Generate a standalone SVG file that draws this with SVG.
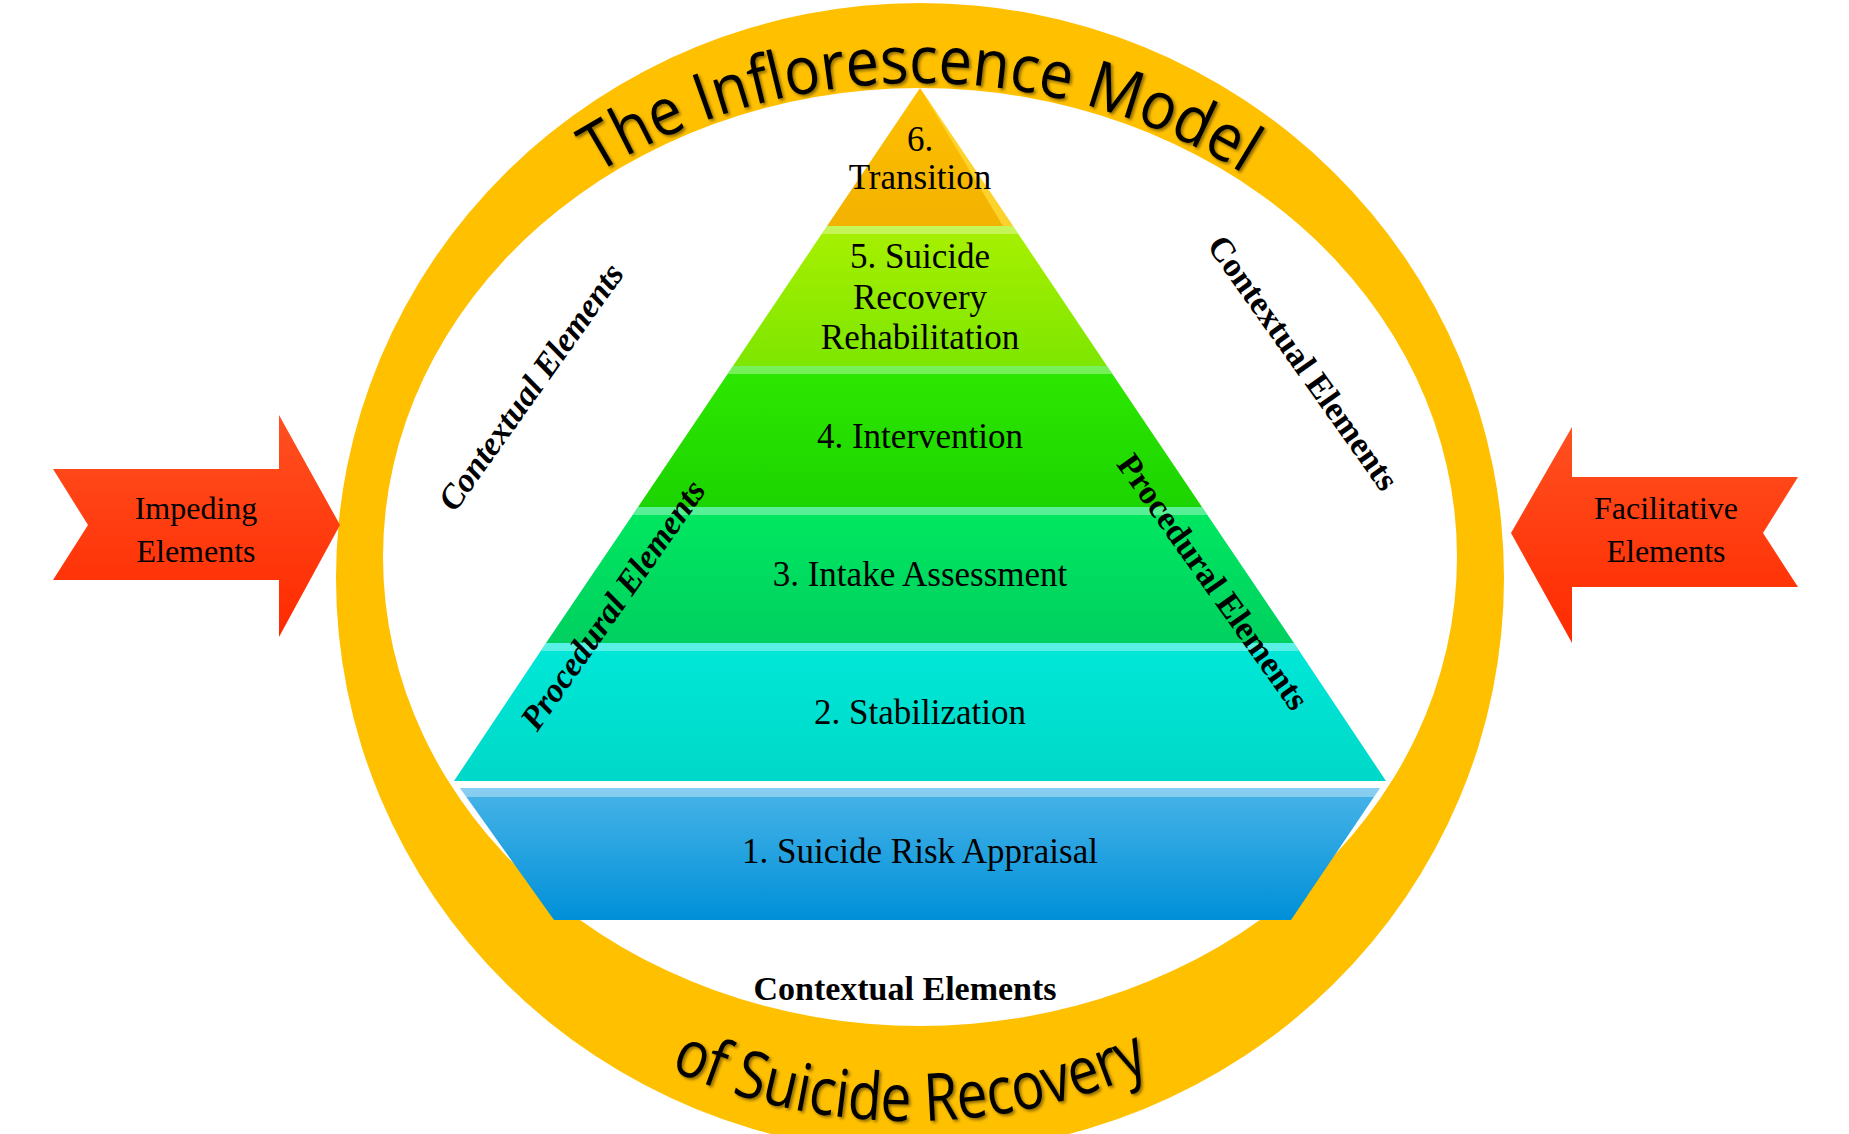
<svg xmlns="http://www.w3.org/2000/svg" width="1849" height="1134" viewBox="0 0 1849 1134">
<defs>
<style>
.lbl{font-family:"Liberation Serif","Times New Roman",serif;font-size:35px;fill:#000;text-anchor:middle}
.side{font-family:"Liberation Serif","Times New Roman",serif;font-size:34px;font-weight:bold;fill:#000;text-anchor:middle}
.arc{font-family:"Open Sans","Liberation Sans",sans-serif;font-size:66px;fill:#000}
.hl{fill:#fff;opacity:0.35}
</style>
<linearGradient id="g6" x1="0" y1="0" x2="0" y2="1"><stop offset="0" stop-color="#FFC000"/><stop offset="1" stop-color="#F2B200"/></linearGradient>
<linearGradient id="g5" x1="0" y1="0" x2="0" y2="1"><stop offset="0" stop-color="#A8F000"/><stop offset="1" stop-color="#7EE600"/></linearGradient>
<linearGradient id="g4" x1="0" y1="0" x2="0" y2="1"><stop offset="0" stop-color="#2EE800"/><stop offset="1" stop-color="#1CD400"/></linearGradient>
<linearGradient id="g3" x1="0" y1="0" x2="0" y2="1"><stop offset="0" stop-color="#00E860"/><stop offset="1" stop-color="#00D060"/></linearGradient>
<linearGradient id="g2" x1="0" y1="0" x2="0" y2="1"><stop offset="0" stop-color="#00E8D8"/><stop offset="1" stop-color="#00D8C8"/></linearGradient>
<linearGradient id="g1" x1="0" y1="0" x2="0" y2="1"><stop offset="0" stop-color="#48B4E8"/><stop offset="1" stop-color="#0090D8"/></linearGradient>
<linearGradient id="ga" x1="0" y1="0" x2="0" y2="1"><stop offset="0" stop-color="#FF5020"/><stop offset="1" stop-color="#FF2A00"/></linearGradient>
<filter id="sh" x="-10%" y="-10%" width="120%" height="120%"><feDropShadow dx="2" dy="2" stdDeviation="1.5" flood-color="#000" flood-opacity="0.45"/></filter>
<path id="topArc" d="M 360 578 A 560 495 0 0 1 1480 578"/>
<path id="botArc" d="M 345 578 A 565 543 0 0 0 1475 578"/>
</defs>
<rect width="1849" height="1134" fill="#fff"/>
<g id="ring">
<path fill="#FFC000" fill-rule="evenodd" d="M 336 578 A 584 575 0 1 1 1504 578 A 584 575 0 1 1 336 578 Z M 383 557 A 537 469 0 1 0 1457 557 A 537 469 0 1 0 383 557 Z"/>
<text class="arc" filter="url(#sh)"><textPath href="#topArc" startOffset="50%" text-anchor="middle" textLength="680" lengthAdjust="spacingAndGlyphs">The Inflorescence Model</textPath></text>
<text class="arc" filter="url(#sh)"><textPath href="#botArc" startOffset="50%" text-anchor="middle" textLength="495" lengthAdjust="spacingAndGlyphs">of Suicide Recovery</textPath></text>
</g>
<g id="layer6">
<polygon points="920,88 1013,226 827,226" fill="url(#g6)"/>
<polygon points="920,88 1013,226 1003,226" fill="#FFE040" opacity="0.7"/>
<text class="lbl" x="920" y="151">6.</text>
<text class="lbl" x="920" y="189">Transition</text>
</g>
<g id="layer5">
<polygon points="827,226 1013,226 1107,366 733,366" fill="url(#g5)"/>
<polygon points="827,226 1013,226 1018,234 822,234" class="hl"/>
<text class="lbl" x="920" y="268">5. Suicide</text>
<text class="lbl" x="920" y="309">Recovery</text>
<text class="lbl" x="920" y="349">Rehabilitation</text>
</g>
<g id="layer4">
<polygon points="733,366 1107,366 1202,507 638,507" fill="url(#g4)"/>
<polygon points="733,366 1107,366 1112,374 728,374" class="hl"/>
<text class="lbl" x="920" y="448">4. Intervention</text>
</g>
<g id="layer3">
<polygon points="638,507 1202,507 1294,643 546,643" fill="url(#g3)"/>
<polygon points="638,507 1202,507 1207,515 633,515" class="hl"/>
<text class="lbl" x="920" y="586">3. Intake Assessment</text>
</g>
<g id="layer2">
<polygon points="546,643 1294,643 1386,781 454,781" fill="url(#g2)"/>
<polygon points="546,643 1294,643 1299,651 541,651" class="hl"/>
<text class="lbl" x="920" y="724">2. Stabilization</text>
</g>
<g id="layer1">
<polygon points="460,788 1380,788 1291,920 554,920" fill="url(#g1)"/>
<polygon points="460,788 1380,788 1374,797 466,797" class="hl"/>
<text class="lbl" x="920" y="863">1. Suicide Risk Appraisal</text>
</g>
<g id="labels">
<text class="side" x="905" y="1000">Contextual Elements</text>
<text class="side" font-style="italic" transform="translate(531,387) rotate(-54.6)" y="11">Contextual Elements</text>
<text class="side" transform="translate(1303,363) rotate(54.6)" y="11">Contextual Elements</text>
<text class="side" font-style="italic" transform="translate(613,605) rotate(-55)" y="11">Procedural Elements</text>
<text class="side" transform="translate(1213,582) rotate(54.6)" y="11">Procedural Elements</text>
</g>
<g id="impeding">
<polygon points="53,469 279,469 279,415 340,525 279,637 279,580 53,580 88,525" fill="url(#ga)"/>
<text class="lbl" x="196" y="519" style="font-size:32px">Impeding</text>
<text class="lbl" x="196" y="562" style="font-size:32px">Elements</text>
</g>
<g id="facilitative">
<polygon points="1798,477 1572,477 1572,427 1511,533 1572,643 1572,587 1798,587 1763,533" fill="url(#ga)"/>
<text class="lbl" x="1666" y="519" style="font-size:32px">Facilitative</text>
<text class="lbl" x="1666" y="562" style="font-size:32px">Elements</text>
</g>
<g id="connectors"/>
</svg>
